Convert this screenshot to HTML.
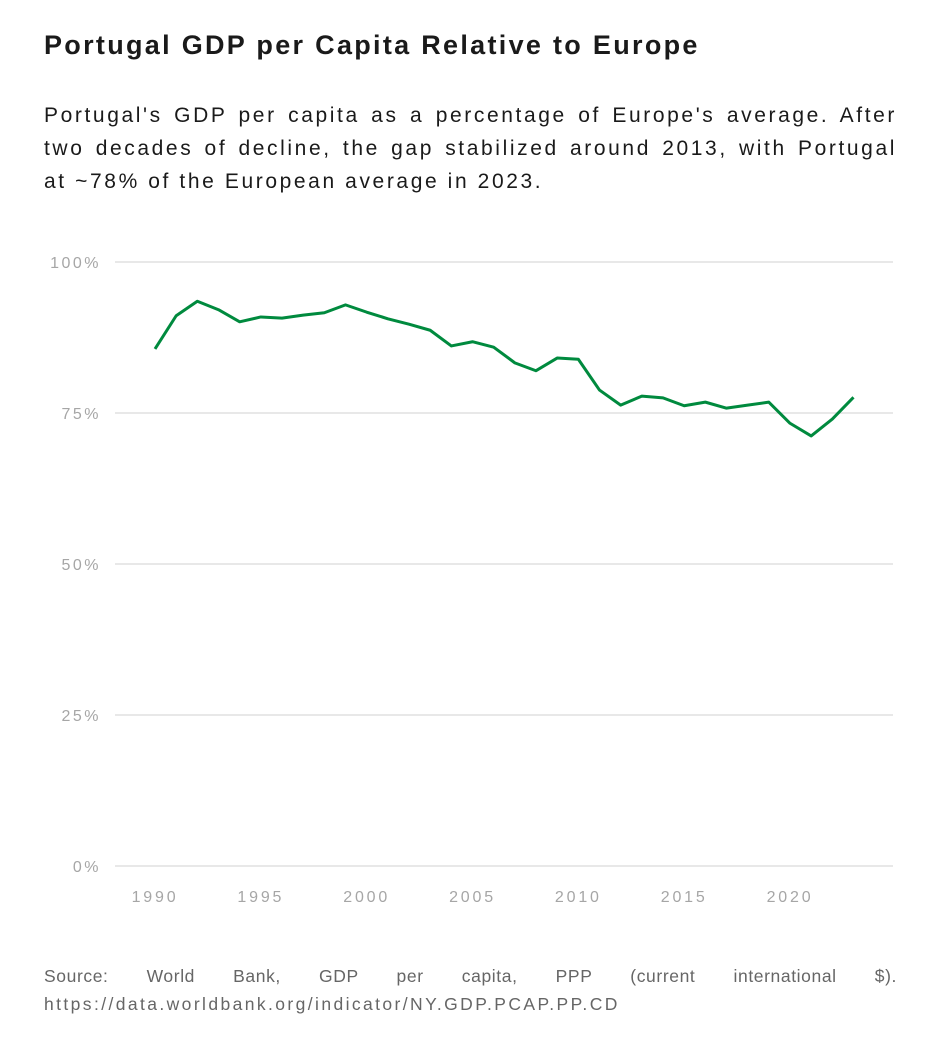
<!DOCTYPE html>
<html><head><meta charset="utf-8">
<style>
body{margin:0;background:#fff;width:941px;height:1061px;font-family:"Liberation Sans",sans-serif;color:#1a1a1a;position:relative;overflow:hidden}
h1{position:absolute;left:44px;top:30px;margin:0;font-size:27px;font-weight:bold;letter-spacing:2.3px;white-space:nowrap}
.sub{position:absolute;left:44px;top:99px;width:853px;margin:0;font-size:21px;line-height:33px;letter-spacing:2.6px}
.sub span{display:block;text-align:justify;text-align-last:justify;white-space:nowrap}
.sub span.last{text-align-last:left}
.src{position:absolute;left:44px;top:962px;width:853px;margin:0;font-size:17.5px;line-height:28px;text-align:justify;color:#666;letter-spacing:2.4px}
.src span{display:block;text-align:justify;text-align-last:justify;white-space:nowrap}
.src span.last{text-align-last:left}
svg{position:absolute;left:0;top:0}
</style></head><body>
<h1>Portugal GDP per Capita Relative to Europe</h1>
<p class="sub"><span>Portugal's GDP per capita as a percentage of Europe's average. After</span><span>two decades of decline, the gap stabilized around 2013, with Portugal</span><span class="last">at ~78% of the European average in 2023.</span></p>
<svg id="chart" width="941" height="1061"></svg>
<p class="src"><span style="letter-spacing:0.6px">Source: World Bank, GDP per capita, PPP (current international $).</span><span class="last">https://data.worldbank.org/indicator/NY.GDP.PCAP.PP.CD</span></p>
<script>
const years=[1990,1991,1992,1993,1994,1995,1996,1997,1998,1999,2000,2001,2002,2003,2004,2005,2006,2007,2008,2009,2010,2011,2012,2013,2014,2015,2016,2017,2018,2019,2020,2021,2022,2023];
const values=[85.6,91.1,93.5,92.1,90.1,90.9,90.7,91.2,91.6,92.9,91.7,90.6,89.7,88.7,86.1,86.8,85.9,83.3,82.0,84.1,83.9,78.8,76.3,77.8,77.5,76.2,76.8,75.8,76.3,76.8,73.3,71.2,74.0,77.6];
const yTicks=[0,25,50,75,100];
const xTicks=[1990,1995,2000,2005,2010,2015,2020];
const NS="http://www.w3.org/2000/svg";
const svg=document.getElementById('chart');
const x=v=>155+(v-1990)*(790-155)/30;
const y=v=>866-v*6.04;
function mk(t,a){const e=document.createElementNS(NS,t);for(const k in a)e.setAttribute(k,a[k]);svg.appendChild(e);return e;}
yTicks.forEach(t=>{
  const l=mk('line',{x1:115,x2:893,y1:y(t),y2:y(t),stroke:'#e0e0e0','stroke-width':1.5});
  
  
  const tx=mk('text',{x:101,y:y(t)+6,'text-anchor':'end','font-size':16,fill:'#a6a6a6','letter-spacing':2.5,'font-family':'Liberation Sans, sans-serif'});
  tx.textContent=t+'%';
  
  
});
xTicks.forEach(t=>{
  const tx=mk('text',{x:x(t),y:902,'text-anchor':'middle','font-size':16,fill:'#a6a6a6','letter-spacing':2.8,'font-family':'Liberation Sans, sans-serif'});
  tx.textContent=t;
  
  
});
const p=mk('polyline',{points:years.map((yr,i)=>x(yr)+','+y(values[i])).join(' '),fill:'none',stroke:'#008a3e','stroke-width':3,'stroke-linejoin':'round'});


</script>
</body></html>
